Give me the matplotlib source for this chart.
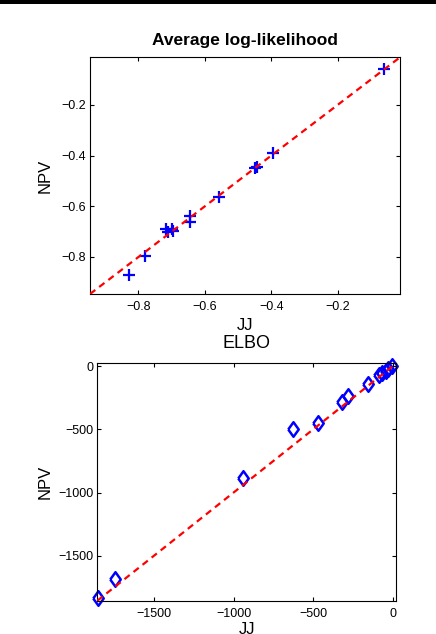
import numpy as np
import matplotlib
matplotlib.use('Agg')
import matplotlib.pyplot as plt
from matplotlib.patches import Rectangle

plt.rcParams['font.family'] = ['Liberation Sans', 'DejaVu Sans']

# Average log-likelihood (JJ vs NPV)
ll_jj = [-0.829, -0.780, -0.716, -0.712, -0.700, -0.695, -0.644, -0.644,
         -0.558, -0.449, -0.442, -0.396, -0.060]
ll_npv = [-0.873, -0.797, -0.689, -0.700, -0.690, -0.698, -0.640, -0.660,
          -0.562, -0.448, -0.443, -0.390, -0.057]
ll_lim = [-0.946, -0.012]
ll_ticks = [-0.8, -0.6, -0.4, -0.2]

# ELBO (JJ vs NPV)
elbo_jj = [-1849, -1742, -939, -624, -470, -321, -279, -157, -85, -65,
           -45, -30, -5]
elbo_npv = [-1830, -1685, -887, -498, -450, -282, -237, -142, -70, -55,
            -35, -20, 0]
elbo_lim = [-1855, 22]
elbo_ticks = [-1500, -1000, -500, 0]

# matlab-like diamond (taller than wide)
diamond = [(-0.72, 0), (0, 1), (0.72, 0), (0, -1), (-0.72, 0)]

fig = plt.figure(figsize=(4.36, 6.34), dpi=100)
fig.patches.append(Rectangle((0, 1 - 4 / 634), 1, 4 / 634, transform=fig.transFigure,
                             facecolor='black', edgecolor='none'))

ax1 = fig.add_axes([0.2064, 0.5363, 0.711, 0.3733])
ax2 = fig.add_axes([0.2232, 0.0525, 0.6858, 0.3744])


def style(ax, lim, ticks):
    ax.set_xlim(lim)
    ax.set_ylim(lim)
    ax.set_xticks(ticks)
    ax.set_yticks(ticks)
    ax.tick_params(direction='in', length=3, width=0.8, top=True, right=True,
                   labelsize=9)
    ax.tick_params(axis='x', pad=5)
    ax.tick_params(axis='y', pad=3)
    for s in ax.spines.values():
        s.set_linewidth(0.8)
    ax.set_xticklabels([str(t).replace('-', '\u2212') for t in ticks])
    ax.set_yticklabels([str(t).replace('-', '\u2212') for t in ticks])


ax1.plot(ll_lim, ll_lim, color='red', linestyle=(0, (3, 2.2)), linewidth=1.6,
         zorder=3)
ax1.plot(ll_jj, ll_npv, linestyle='none', marker='+', color='blue',
         markersize=9, markeredgewidth=1.6, zorder=2)
style(ax1, ll_lim, ll_ticks)
ax1.set_title('Average log-likelihood', fontsize=12.5, fontweight='bold', pad=9)
ax1.set_xlabel('JJ', fontsize=12, labelpad=4)
ax1.set_ylabel('NPV', fontsize=12, labelpad=6)

ax2.plot(elbo_lim, elbo_lim, color='red', linestyle=(0, (3, 2.2)), linewidth=1.6,
         zorder=3)
ax2.plot(elbo_jj, elbo_npv, linestyle='none', marker=diamond, color='blue',
         markerfacecolor='none', markersize=10.5, markeredgewidth=1.8, zorder=2,
         clip_on=False)
style(ax2, elbo_lim, elbo_ticks)
ax2.set_title('ELBO', fontsize=13, pad=11)
ax2.set_xlabel('JJ', fontsize=12, labelpad=2)
ax2.set_ylabel('NPV', fontsize=12, labelpad=4)

fig.savefig('out.png', dpi=100)
